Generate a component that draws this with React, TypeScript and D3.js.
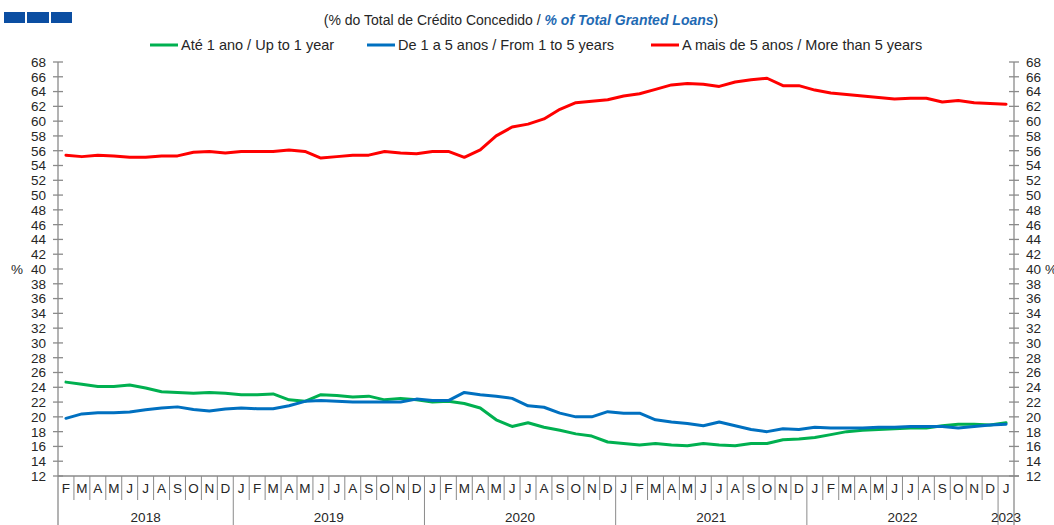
import * as d3 from 'd3';

// Feb 2018 .. Jan 2023, one letter per month
const monthLabels = [
  'F', 'M', 'A', 'M', 'J', 'J', 'A', 'S', 'O', 'N', 'D',
  'J', 'F', 'M', 'A', 'M', 'J', 'J', 'A', 'S', 'O', 'N', 'D',
  'J', 'F', 'M', 'A', 'M', 'J', 'J', 'A', 'S', 'O', 'N', 'D',
  'J', 'F', 'M', 'A', 'M', 'J', 'J', 'A', 'S', 'O', 'N', 'D',
  'J', 'F', 'M', 'A', 'M', 'J', 'J', 'A', 'S', 'O', 'N', 'D',
  'J',
];
const yearLabels = ['2018', '2019', '2020', '2021', '2022', '2023'];
const yearMonths = [11, 12, 12, 12, 12, 1];

const yTicks = [12, 14, 16, 18, 20, 22, 24, 26, 28, 30, 32, 34, 36, 38, 40, 42, 44, 46, 48, 50, 52, 54, 56, 58, 60, 62, 64, 66, 68];

const upTo1 = [
  24.7, 24.4, 24.1, 24.1, 24.3, 23.9, 23.4, 23.3, 23.2, 23.3, 23.2,
  23.0, 23.0, 23.1, 22.3, 22.1, 23.0, 22.9, 22.7, 22.8, 22.3, 22.5, 22.3,
  22.0, 22.1, 21.8, 21.2, 19.6, 18.7, 19.2, 18.6, 18.2, 17.7, 17.4, 16.6,
  16.4, 16.2, 16.4, 16.2, 16.1, 16.4, 16.2, 16.1, 16.4, 16.4, 16.9, 17.0,
  17.2, 17.6, 18.0, 18.2, 18.3, 18.4, 18.5, 18.5, 18.8, 19.0, 19.0, 18.9,
  19.2,
];
const from1to5 = [
  19.8, 20.4, 20.55, 20.55, 20.65, 20.95, 21.2, 21.35, 21.0, 20.8, 21.05,
  21.2, 21.1, 21.1, 21.5, 22.1, 22.2, 22.1, 22.0, 22.0, 22.0, 22.0, 22.4,
  22.2, 22.2, 23.3, 23.0, 22.8, 22.5, 21.5, 21.3, 20.5, 20.0, 20.0, 20.7,
  20.5, 20.5, 19.6, 19.3, 19.1, 18.8, 19.3, 18.8, 18.3, 18.0, 18.4, 18.3,
  18.6, 18.5, 18.5, 18.5, 18.6, 18.6, 18.7, 18.7, 18.7, 18.5, 18.7, 18.9,
  19.0,
];
const over5 = [
  55.4, 55.2, 55.4, 55.3, 55.1, 55.1, 55.3, 55.3, 55.8, 55.9, 55.7,
  55.9, 55.9, 55.9, 56.1, 55.9, 55.0, 55.2, 55.4, 55.4, 55.9, 55.7, 55.6,
  55.9, 55.9, 55.1, 56.1, 58.0, 59.2, 59.6, 60.3, 61.6, 62.5, 62.7, 62.9,
  63.4, 63.7, 64.3, 64.9, 65.1, 65.0, 64.7, 65.3, 65.6, 65.8, 64.8, 64.8,
  64.2, 63.8, 63.6, 63.4, 63.2, 63.0, 63.1, 63.1, 62.6, 62.8, 62.5, 62.4,
  62.3,
];

const seriesNames = ['Até 1 ano / Up to 1 year', 'De 1 a 5 anos / From 1 to 5 years', 'A mais de 5 anos / More than 5 years'];
const seriesColors = ['#00b050', '#0070c0', '#ff0000'];
const seriesData = [upTo1, from1to5, over5];

const W = 1054;
const H = 525;
const left = 58;
const right = 1014;
const top = 62;
const bottom = 476;
const font = '"Liberation Sans", Arial, sans-serif';
const axisColor = '#8a8a8a';
const textColor = '#262626';

export default function App() {
  const x = d3.scaleBand<number>().domain(d3.range(monthLabels.length)).range([left, right]).padding(0);
  const y = d3.scaleLinear().domain([12, 68]).range([bottom, top]);
  const bw = x.bandwidth();
  const line = d3
    .line<number>()
    .x((_, i) => (x(i) as number) + bw / 2)
    .y((d) => y(d));

  // year boundaries, cumulative
  let acc = 0;
  const yearSpans = yearMonths.map((n, k) => {
    const s = acc;
    acc += n;
    return { label: yearLabels[k], start: s, end: acc };
  });

  const legendX = [150, 367, 651];

  return (
    <svg width={W} height={H} style={{ position: 'absolute', left: 0, top: 0, background: '#fff' }} fontFamily={font}>
      {/* logo */}
      <g fill="#0b4ea2">
        <rect x={4} y={12} width={21} height={11} />
        <rect x={27} y={12} width={22} height={11} />
        <rect x={51} y={12} width={21} height={11} />
      </g>

      <text x={521} y={25} textAnchor="middle" fontSize={14} fill={textColor}>
        (% do Total  de Crédito Concedido /{' '}
        <tspan fontWeight="bold" fontStyle="italic" fill="#1f6ab3">% of Total Granted Loans</tspan>)
      </text>

      {/* legend */}
      {seriesNames.map((name, k) => (
        <g key={name}>
          <line x1={legendX[k]} x2={legendX[k] + 28} y1={45} y2={45} stroke={seriesColors[k]} strokeWidth={3} />
          <text x={legendX[k] + 31} y={50} fontSize={14.5} fill={textColor}>{name}</text>
        </g>
      ))}

      {/* left axis */}
      <line x1={left} x2={left} y1={top} y2={H} stroke={axisColor} strokeWidth={1.3} />
      {yTicks.map((t) => (
        <g key={'l' + t}>
          <line x1={left - 5} x2={left + 5} y1={y(t)} y2={y(t)} stroke={axisColor} strokeWidth={1.3} />
          <text x={46} y={y(t)} dy="0.36em" textAnchor="end" fontSize={13.5} fill={textColor}>{t}</text>
        </g>
      ))}
      <text x={17} y={y(40)} dy="0.36em" textAnchor="middle" fontSize={13.5} fill={textColor}>%</text>

      {/* right axis */}
      <line x1={right} x2={right} y1={top} y2={H} stroke={axisColor} strokeWidth={1.3} />
      {yTicks.map((t) => (
        <g key={'r' + t}>
          <line x1={right - 5} x2={right + 5} y1={y(t)} y2={y(t)} stroke={axisColor} strokeWidth={1.3} />
          <text x={1026} y={y(t)} dy="0.36em" textAnchor="start" fontSize={13.5} fill={textColor}>{t}</text>
        </g>
      ))}
      <text x={1045} y={y(40)} dy="0.36em" textAnchor="start" fontSize={13.5} fill={textColor}>%</text>

      {/* bottom category axis */}
      <line x1={left} x2={right + 5} y1={bottom} y2={bottom} stroke={axisColor} strokeWidth={1.3} />
      {monthLabels.map((m, i) => (
        <g key={'m' + i}>
          {i > 0 && (
            <line
              x1={x(i) as number}
              x2={x(i) as number}
              y1={bottom}
              y2={yearSpans.some((s) => s.start === i) ? H : 500}
              stroke={axisColor}
              strokeWidth={1}
            />
          )}
          <text x={(x(i) as number) + bw / 2} y={493} textAnchor="middle" fontSize={13.5} fill={textColor}>{m}</text>
        </g>
      ))}
      {yearSpans.map((s) => (
        <text
          key={s.label}
          x={((x(s.start) as number) + (x(s.end - 1) as number) + bw) / 2}
          y={522}
          textAnchor="middle"
          fontSize={13.5}
          fill={textColor}
        >
          {s.label}
        </text>
      ))}

      {/* series */}
      {seriesData.map((d, k) => (
        <path
          key={seriesNames[k]}
          d={line(d) ?? ''}
          fill="none"
          stroke={seriesColors[k]}
          strokeWidth={3}
          strokeLinejoin="round"
          strokeLinecap="round"
        />
      ))}
    </svg>
  );
}
